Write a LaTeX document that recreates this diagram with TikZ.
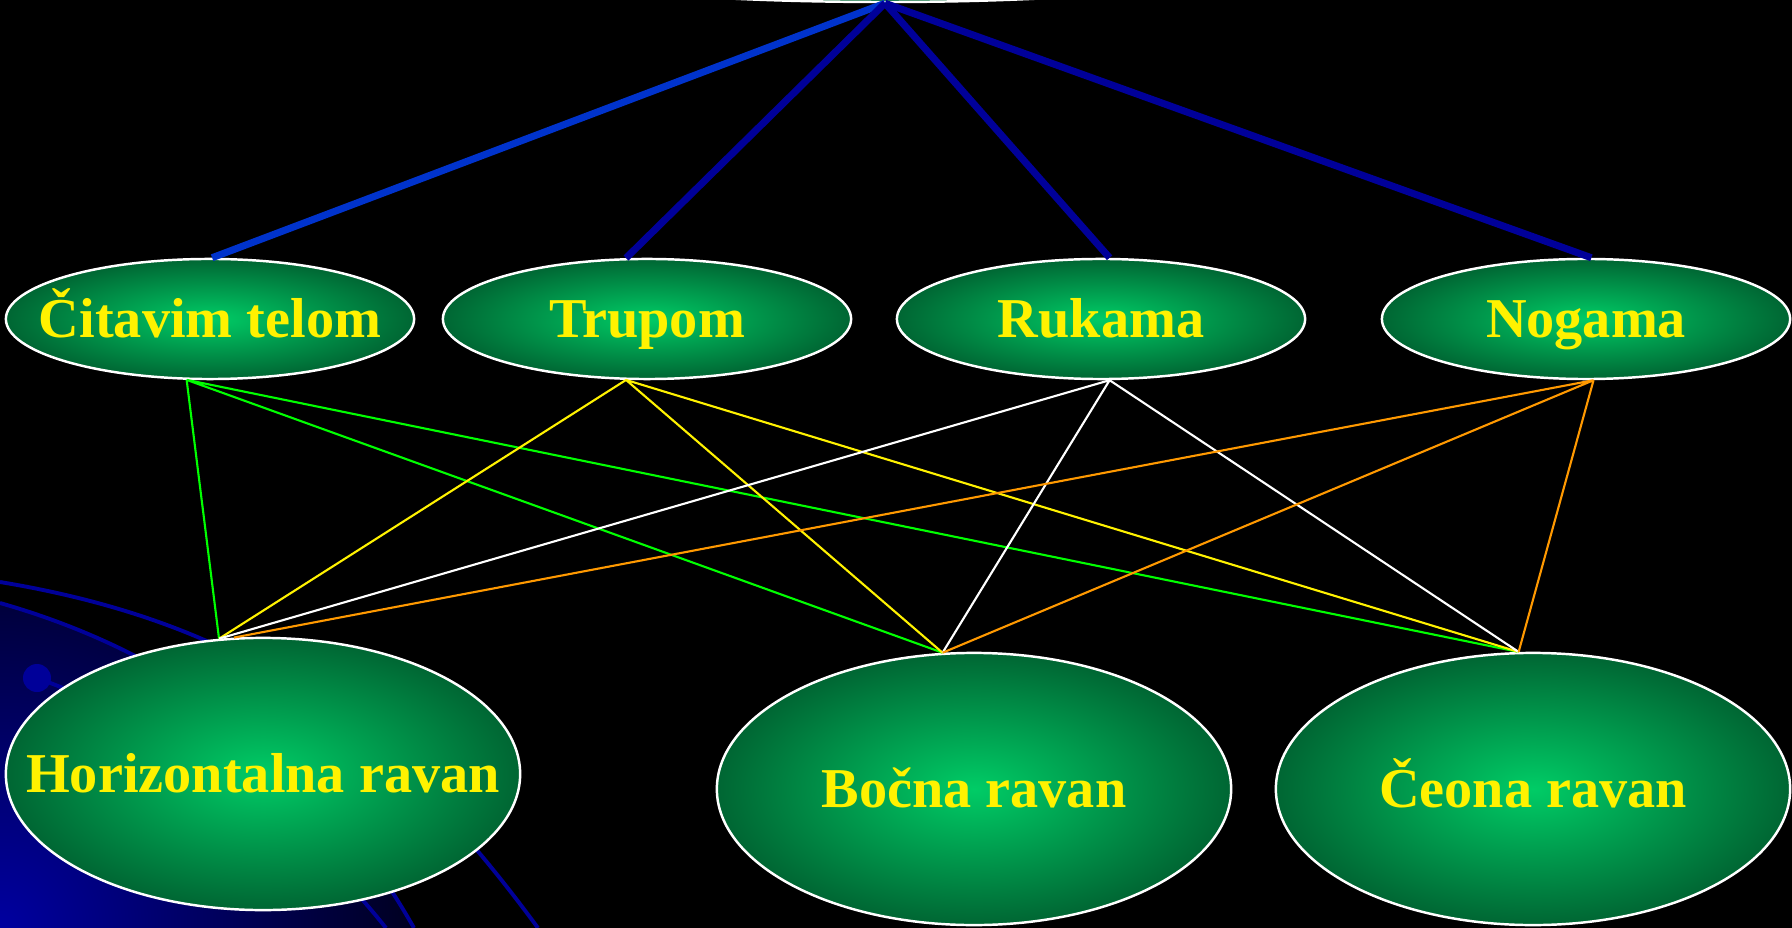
\documentclass[tikz,border=0pt]{standalone}
\usepackage{fontspec}
\setmainfont{Liberation Serif}
\usepackage{xcolor}
\usetikzlibrary{shapes.geometric}

\definecolor{stemblue}{HTML}{0033CC}
\definecolor{navyline}{HTML}{000099}
\definecolor{ovalin}{HTML}{00CC66}
\definecolor{ovalout}{HTML}{006633}
\definecolor{linkgreen}{HTML}{00FF00}
\definecolor{linkorange}{HTML}{FF9900}
\definecolor{cornerblue}{HTML}{0000A0}

\begin{document}
\begin{tikzpicture}[x=0.01cm,y=-0.01cm,font=\fontsize{16}{19}\selectfont\bfseries,
 oval/.style={ellipse,draw=white,line width=0.7pt,inner sep=0pt,inner color=ovalin,outer color=ovalout,text=yellow,
  text height=10.6pt,text depth=0pt,
  execute at begin node={\hbox to 0pt\bgroup\hss},execute at end node={\hss\egroup}},
 small/.style={oval,minimum width=4.08cm,minimum height=1.2cm},
 big/.style={oval,minimum width=5.14cm,minimum height=2.72cm},
 stem/.style={line width=2pt},
 link/.style={line width=0.6pt},
 orbit/.style={navyline,line width=1.1pt}]
\fill[black] (0,0) rectangle (1792,928);
\useasboundingbox (0,0) rectangle (1792,928);
\begin{scope}
\clip (0,603) .. controls (200,660) and (330,780) .. (414,928) -- (0,928) -- cycle;
\shade[inner color=cornerblue,outer color=black] (0,928) circle (520);
\end{scope}
\draw[orbit] (0,582) .. controls (260,625) and (400,740) .. (538,928);
\draw[orbit] (0,603) .. controls (200,660) and (330,780) .. (414,928);
\draw[orbit] (37,678) .. controls (180,730) and (300,820) .. (386,928);
\fill[navyline] (37,678) circle (14);

\node[oval,minimum width=6.6cm,minimum height=0.6cm] (root) at (885,-28) {};
\node[small] (celo) at (210,319) {Čitavim telom};
\node[small] (trup) at (647,319) {Trupom};
\node[small] (ruke) at (1101,319) {Rukama};
\node[small] (noge) at (1586,319) {Nogama};
\node[big] (horiz) at (263,774) {Horizontalna ravan};
\node[big] (bocna) at (974,789) {Bočna ravan};
\node[big] (ceona) at (1533,789) {Čeona ravan};

\draw[stem,stemblue] (root.south) -- (celo.88);
\draw[stem,navyline] (root.south) -- (trup.109);
\draw[stem,navyline] (root.south) -- (ruke.82);
\draw[stem,navyline] (root.south) -- (noge.85);

\foreach \src/\srcang/\tint/\hang in {celo/249/linkgreen/108,trup/251/yellow/108,ruke/278/white/108,noge/277/linkorange/102}
 \draw[link,\tint] (\src.\srcang) -- (horiz.\hang) (\src.\srcang) -- (bocna.103) (\src.\srcang) -- (ceona.96);
\end{tikzpicture}
\end{document}
